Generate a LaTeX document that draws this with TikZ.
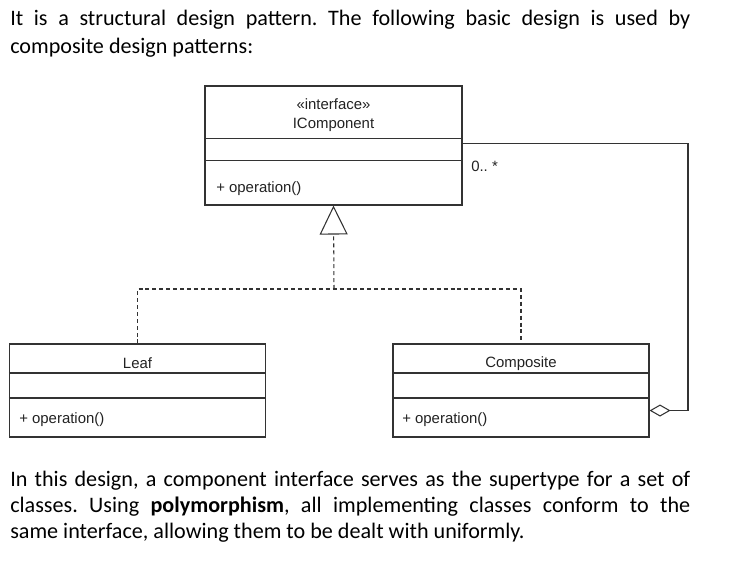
\documentclass[tikz,border=0pt]{standalone}
\usepackage{fontspec}
\setmainfont{Carlito}
\newfontfamily\arialf{Liberation Sans}
\usetikzlibrary{arrows.meta,calc}
\definecolor{linec}{HTML}{333333}
\definecolor{umltext}{HTML}{222222}
\begin{document}
\hyphenpenalty=10000
\frenchspacing
\begin{tikzpicture}[x=0.75pt,y=-0.75pt,
  classbox/.style={draw=linec, line width=0.8pt, inner sep=0pt, minimum height=93*0.75pt},
  compline/.style={draw=linec, line width=0.8pt},
  uml/.style={font=\arialf\fontsize{11.2}{13.5}\selectfont, text=umltext, inner sep=0pt},
  para/.style={font=\fontsize{16.6}{20.5}\selectfont, text width=510pt, align=justify, inner sep=0pt, anchor=base west},
  realize/.style={draw=linec, line width=0.8pt, dash pattern=on 3pt off 2.2pt},
  assoc/.style={draw=linec, line width=0.8pt}
]
\useasboundingbox (0,0) rectangle (751,564);

% paragraphs
\node[para] (ptop) at (10,26) {It is a structural design pattern. The following basic design is used by\linebreak composite design patterns:};
\node[para, font=\fontsize{16.6}{19.5}\selectfont] (pbot) at (10,486) {In this design, a component interface serves as the supertype for a set of\linebreak classes. Using \textbf{polymorphism}, all implementing classes conform to the\linebreak same interface, allowing them to be dealt with uniformly.};

% IComponent
\node[classbox, minimum width=257*0.75pt, minimum height=119*0.75pt] (ic) at (333.5,145.5) {};
\draw[compline] ($(ic.north west)+(0,53)$) -- ($(ic.north east)+(0,53)$);
\draw[compline] ($(ic.north west)+(0,75)$) -- ($(ic.north east)+(0,75)$);
\node[uml] (icst) at (333.5,104) {«interface»};
\node[uml] (icname) at (333.5,125) {IComponent};
\node[uml, anchor=west] (icop) at (216,188.5) {+ operation()};

% Leaf
\node[classbox, minimum width=256*0.75pt] (leaf) at (137.5,390.5) {};
\draw[compline] ($(leaf.north west)+(0,29.5)$) -- ($(leaf.north east)+(0,29.5)$);
\draw[compline] ($(leaf.north west)+(0,54.5)$) -- ($(leaf.north east)+(0,54.5)$);
\node[uml] (leafname) at (137.5,363.5) {Leaf};
\node[uml, anchor=west] (leafop) at (19,419.5) {+ operation()};

% Composite
\node[classbox, minimum width=256*0.75pt] (comp) at (521,390.5) {};
\draw[compline] ($(comp.north west)+(0,29.5)$) -- ($(comp.north east)+(0,29.5)$);
\draw[compline] ($(comp.north west)+(0,54.5)$) -- ($(comp.north east)+(0,54.5)$);
\node[uml] (compname) at (521,363.5) {Composite};
\node[uml, anchor=west] (compop) at (402,419.5) {+ operation()};

% realization
\coordinate (j) at (334,289);
\draw[realize] (leaf.north) |- (j) -| (comp.north);
\draw[realize, -{Triangle[open, length=29*0.75pt, width=28*0.75pt, line width=0.8pt, sharp]}] (j) -- (ic.south);

% aggregation
\coordinate (aggstart) at ($(comp.south east)+(0,-27)$);
\coordinate (aggend) at ($(ic.north east)+(0,58)$);
\coordinate (aggcorner) at (688,0);
\draw[assoc, {Diamond[open, length=21*0.75pt, width=12*0.75pt, line width=0.8pt]}-] (aggstart) -- (aggstart -| aggcorner) |- (aggend);
\node[uml, anchor=west] (mult) at (471,166) {0.. *};
\end{tikzpicture}
\end{document}
